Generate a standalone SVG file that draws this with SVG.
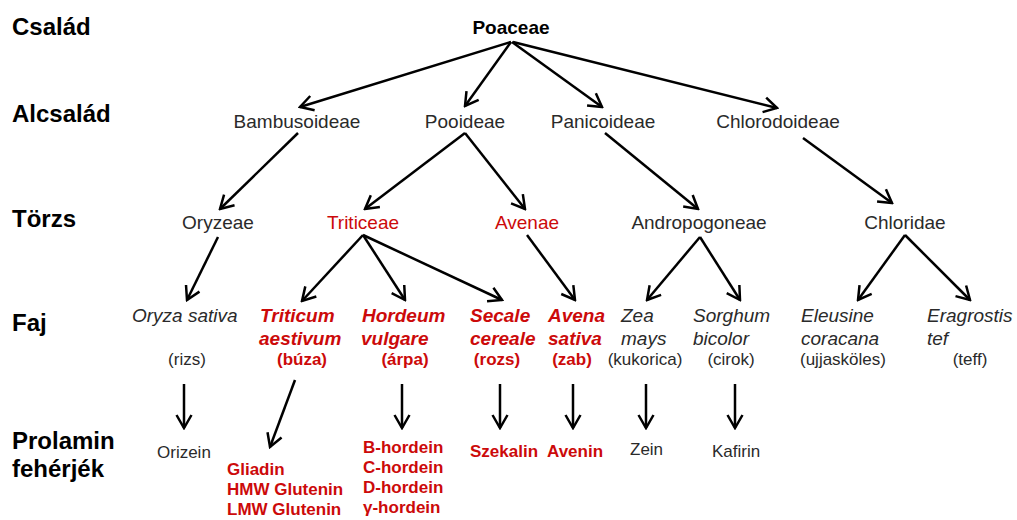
<svg xmlns="http://www.w3.org/2000/svg" width="1017" height="520" viewBox="0 0 1017 520">
<defs>
<marker id="ah" viewBox="0 0 20 20" markerWidth="20" markerHeight="20" refX="18" refY="10" orient="auto" markerUnits="userSpaceOnUse">
<path d="M5,2.5 L18,10 L5,17.5" fill="none" stroke="#000" stroke-width="2.5" stroke-linejoin="miter"/>
</marker>
<style>
text{font-family:"Liberation Sans",Arial,sans-serif;}
.lvl{font-size:24px;font-weight:bold;fill:#000;}
.n{font-size:19px;fill:#2a2a2a;text-anchor:middle;}
.r{fill:#cc0a0a;}
.sp{font-size:19px;font-style:italic;fill:#2a2a2a;}
.spr{font-size:19px;font-style:italic;font-weight:bold;fill:#cc0a0a;}
.cm{font-size:17px;fill:#2a2a2a;text-anchor:middle;}
.cmr{font-size:17px;font-weight:bold;fill:#cc0a0a;text-anchor:middle;}
.pr{font-size:17px;fill:#2a2a2a;}
.prr{font-size:17px;font-weight:bold;fill:#cc0a0a;}
.c{fill:none;stroke:#000;stroke-width:2.5;marker-end:url(#ah);}
</style>
</defs>
<rect width="1017" height="520" fill="#fff"/>

<g id="levels">
<text class="lvl" x="12" y="35">Család</text>
<text class="lvl" x="12" y="122">Alcsalád</text>
<text class="lvl" x="12" y="227">Törzs</text>
<text class="lvl" x="12" y="331">Faj</text>
<text class="lvl" x="12" y="449">Prolamin</text>
<text class="lvl" x="12" y="477">fehérjék</text>
</g>

<g id="poaceae"><text class="n" x="511" y="34" style="font-weight:bold;fill:#000">Poaceae</text></g>

<g id="bambusoideae"><text class="n" x="297" y="128">Bambusoideae</text></g>
<g id="pooideae"><text class="n" x="465" y="128">Pooideae</text></g>
<g id="panicoideae"><text class="n" x="603" y="128">Panicoideae</text></g>
<g id="chlorodoideae"><text class="n" x="778" y="128">Chlorodoideae</text></g>

<g id="oryzeae"><text class="n" x="218" y="229">Oryzeae</text></g>
<g id="triticeae"><text class="n r" x="363" y="229">Triticeae</text></g>
<g id="avenae"><text class="n r" x="527" y="229">Avenae</text></g>
<g id="andropogoneae"><text class="n" x="699" y="229">Andropogoneae</text></g>
<g id="chloridae"><text class="n" x="905" y="229">Chloridae</text></g>

<g id="oryza"><text class="sp" x="132" y="322">Oryza sativa</text><text class="cm" x="187" y="365">(rizs)</text></g>
<g id="triticum"><text class="spr" x="260" y="322">Triticum</text><text class="spr" x="259" y="345">aestivum</text><text class="cmr" x="302" y="365">(búza)</text></g>
<g id="hordeum"><text class="spr" x="362" y="322">Hordeum</text><text class="spr" x="361" y="345">vulgare</text><text class="cmr" x="405" y="365">(árpa)</text></g>
<g id="secale"><text class="spr" x="470" y="322">Secale</text><text class="spr" x="470" y="345">cereale</text><text class="cmr" x="497" y="365">(rozs)</text></g>
<g id="avena"><text class="spr" x="548" y="322">Avena</text><text class="spr" x="548" y="345">sativa</text><text class="cmr" x="572" y="365">(zab)</text></g>
<g id="zea"><text class="sp" x="621" y="322">Zea</text><text class="sp" x="621" y="345">mays</text><text class="cm" x="645" y="365">(kukorica)</text></g>
<g id="sorghum"><text class="sp" x="693" y="322">Sorghum</text><text class="sp" x="693" y="345">bicolor</text><text class="cm" x="731" y="365">(cirok)</text></g>
<g id="eleusine"><text class="sp" x="801" y="322">Eleusine</text><text class="sp" x="801" y="345">coracana</text><text class="cm" x="843" y="365">(ujjasköles)</text></g>
<g id="eragrostis"><text class="sp" x="927" y="322">Eragrostis</text><text class="sp" x="927" y="345">tef</text><text class="cm" x="970" y="365">(teff)</text></g>

<g id="orizein"><text class="pr" x="157" y="458">Orizein</text></g>
<g id="gliadin"><text class="prr" x="227" y="475">Gliadin</text><text class="prr" x="227" y="495">HMW Glutenin</text><text class="prr" x="227" y="515">LMW Glutenin</text></g>
<g id="hordein"><text class="prr" x="363" y="453">B-hordein</text><text class="prr" x="363" y="473">C-hordein</text><text class="prr" x="363" y="493">D-hordein</text><text class="prr" x="363" y="513">γ-hordein</text></g>
<g id="szekalin"><text class="prr" x="470" y="457">Szekalin</text></g>
<g id="avenin"><text class="prr" x="547" y="457">Avenin</text></g>
<g id="zein"><text class="pr" x="630" y="455">Zein</text></g>
<g id="kafirin"><text class="pr" x="712" y="457">Kafirin</text></g>

<g id="connectors">
<line class="c" x1="511" y1="42" x2="300" y2="107"/>
<line class="c" x1="511" y1="42" x2="465" y2="106"/>
<line class="c" x1="512" y1="42" x2="602" y2="107"/>
<line class="c" x1="513" y1="42" x2="777" y2="108"/>

<line class="c" x1="298" y1="133" x2="220" y2="209"/>
<line class="c" x1="465" y1="133" x2="365" y2="209"/>
<line class="c" x1="465" y1="133" x2="525" y2="209"/>
<line class="c" x1="605" y1="133" x2="698" y2="209"/>
<line class="c" x1="803" y1="138" x2="892" y2="203"/>

<line class="c" x1="218" y1="237" x2="187" y2="300"/>
<line class="c" x1="363" y1="235" x2="302" y2="301"/>
<line class="c" x1="363" y1="235" x2="405" y2="300"/>
<line class="c" x1="363" y1="235" x2="502" y2="300"/>
<line class="c" x1="527" y1="235" x2="575" y2="300"/>
<line class="c" x1="700" y1="237" x2="647" y2="300"/>
<line class="c" x1="700" y1="237" x2="740" y2="300"/>
<line class="c" x1="905" y1="235" x2="858" y2="300"/>
<line class="c" x1="905" y1="235" x2="970" y2="300"/>

<line class="c" x1="184" y1="384" x2="184" y2="428"/>
<line class="c" x1="295" y1="380" x2="270" y2="447"/>
<line class="c" x1="402" y1="384" x2="402" y2="428"/>
<line class="c" x1="500" y1="384" x2="500" y2="428"/>
<line class="c" x1="573" y1="384" x2="573" y2="428"/>
<line class="c" x1="646" y1="384" x2="646" y2="428"/>
<line class="c" x1="735" y1="384" x2="735" y2="428"/>
</g>
</svg>
